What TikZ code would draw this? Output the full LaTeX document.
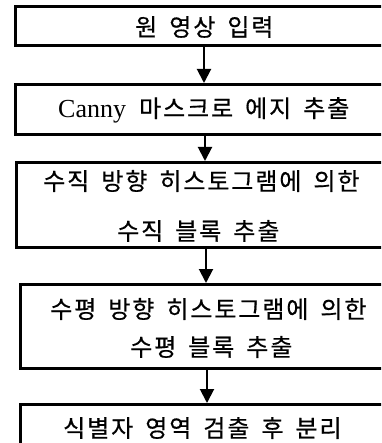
\documentclass[tikz,border=0pt]{standalone}
\usepackage{fontspec}
\usetikzlibrary{arrows.meta}
\newfontfamily\kr[LetterSpace=8,FakeBold=0.6]{Noto Sans CJK KR}
\newfontfamily\lat{Liberation Serif}
\begin{document}
\begin{tikzpicture}[x=1pt,y=-1pt,
  box/.style={draw=black,line width=2.6pt,fill=white,inner sep=0pt},
  lbl/.style={anchor=west,inner sep=0pt,font={\fontsize{24}{27}\selectfont\kr\spaceskip=12pt}},
  arr/.style={line width=2pt,-{Triangle[width=14pt,length=14pt]}}]
\clip (0,0) rectangle (381,443);
\fill[white] (0,0) rectangle (381,443);
\node[box,anchor=north west,minimum width=382pt,minimum height=39pt] (b1) at (14,5) {};
\node[box,anchor=north west,minimum width=382pt,minimum height=50pt] (b2) at (14,83) {};
\node[box,anchor=north west,minimum width=381pt,minimum height=85pt] (b3) at (15,161) {};
\node[box,anchor=north west,minimum width=377pt,minimum height=84pt] (b4) at (19,283) {};
\node[box,anchor=north west,minimum width=377pt,minimum height=60pt] (b5) at (19,403) {};
\node[lbl] (t1) at (135,27) {원 영상 입력};
\node[lbl] (t2) at (58,110) {{\lat\fontsize{26}{28}\selectfont Canny}\hspace{13pt}마스크로 에지 추출};
\node[lbl] (t3a) at (43,181) {수직 방향 히스토그램에 의한};
\node[lbl] (t3b) at (117,231) {수직 블록 추출};
\node[lbl] (t4a) at (50,309) {수평 방향 히스토그램에 의한};
\node[lbl] (t4b) at (130,347) {수평 블록 추출};
\node[lbl] (t5) at (63,428) {식별자 영역 검출 후 분리};
\coordinate (c1) at (204,0);
\coordinate (c2) at (205,0);
\coordinate (c3) at (206,0);
\coordinate (c4) at (207,0);
\draw[arr] (b1.south -| c1) -- (b2.north -| c1);
\draw[arr] (b2.south -| c2) -- (b3.north -| c2);
\draw[arr] (b3.south -| c3) -- (b4.north -| c3);
\draw[arr] (b4.south -| c4) -- (b5.north -| c4);
\end{tikzpicture}
\end{document}
